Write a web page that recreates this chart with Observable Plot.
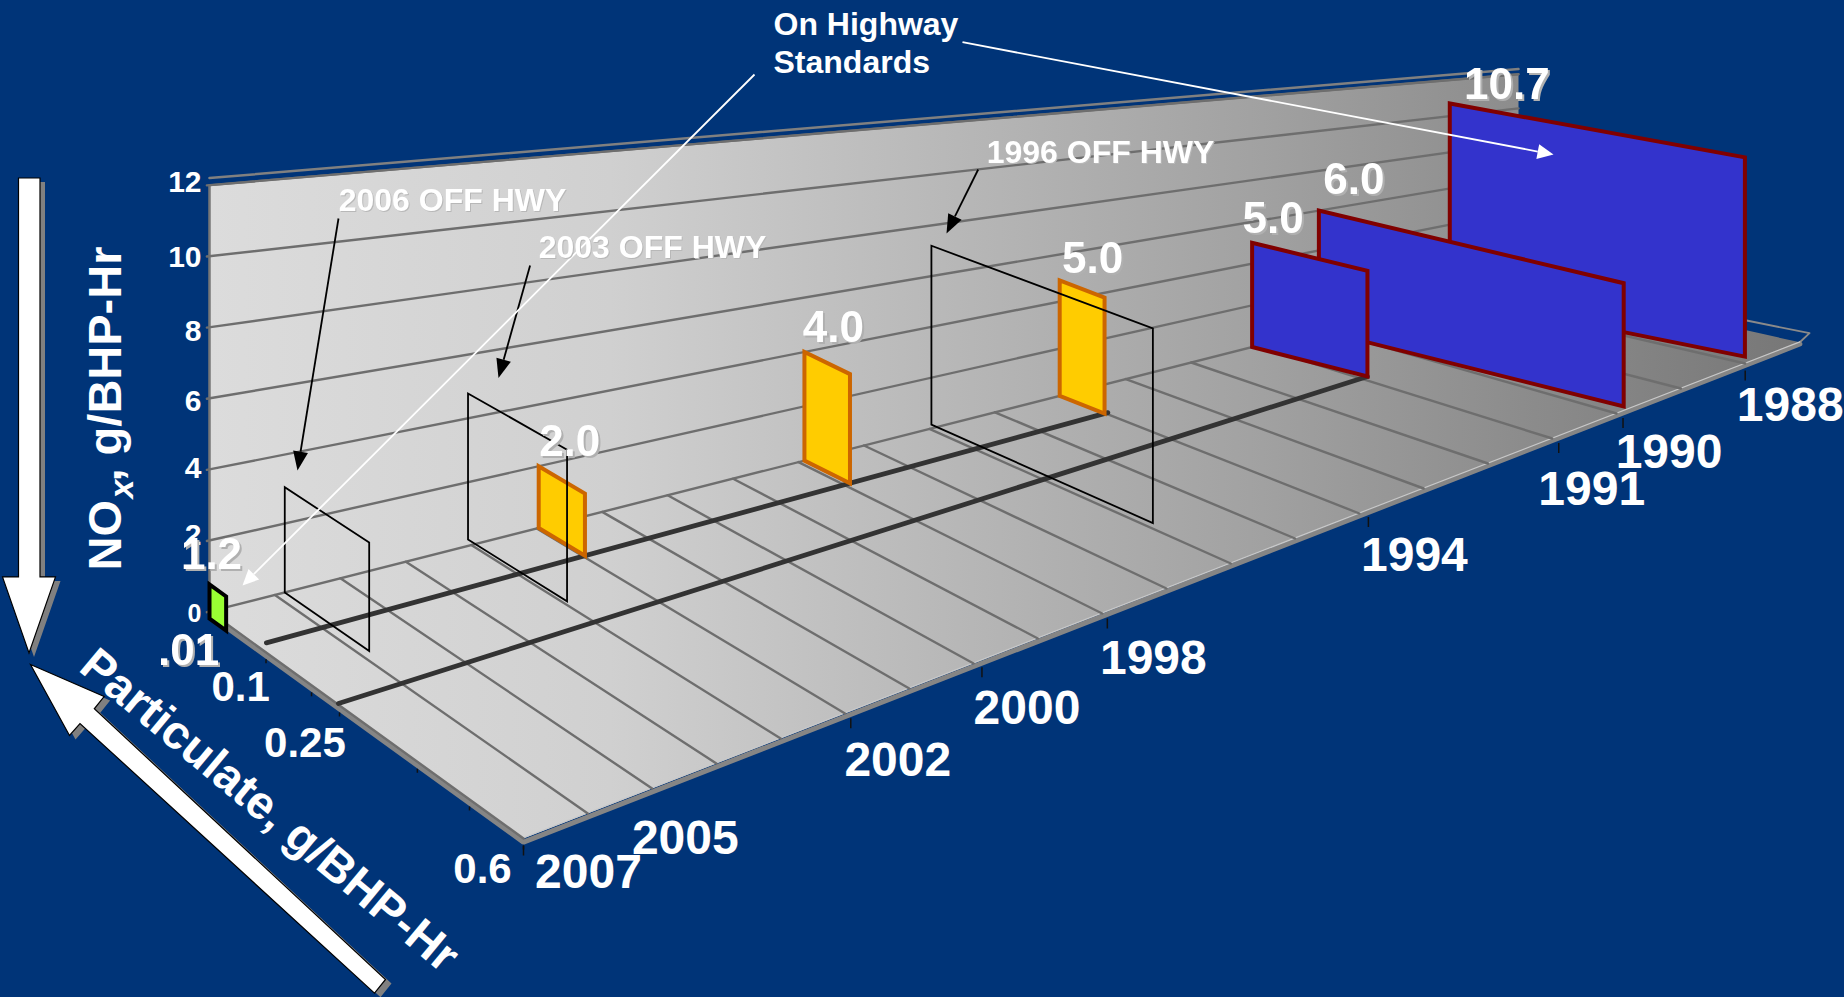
<!DOCTYPE html>
<html>
<head>
<meta charset="utf-8">
<script src="https://cdn.jsdelivr.net/npm/d3@7"></script>
<script src="https://cdn.jsdelivr.net/npm/@observablehq/plot@0.6"></script>
<style>
  html, body { margin: 0; padding: 0; background: #003478; }
  svg { display: block; }
</style>
</head>
<body>
<div id="chart"></div>
<script>
// ---- chart values -------------------------------------------------------
const noxTicks = [0, 2, 4, 6, 8, 10, 12];
const noxTickNudge = [2, -5, -1, 3, 4, 1, -3];
const yearLabels = ["2007", "2005", "2002", "2000", "1998", "1994", "1991", "1990", "1988"];
const yearSlots = [0, 2.05, 5.09, 7.13, 9.08, 13.14, 16.1, 17.1, 19];
const yearsWithoutTick = ["2005"];
const pmLabels = [".01", "0.1", "0.25", "0.6"];
const pmValues = [0.01, 0.1, 0.25, 0.6];
const pmMinorTicks = [0.18, 0.325, 0.414, 0.662, 0.828, 1];

// drawn back to front
const barText = ["10.7", "6.0", "5.0", "5.0", "4.0", "2.0", "1.2"];
const barNox = [10.7, 6, 5, 4.9, 4, 2, 0.96];
const barPm = [0.6, 0.6, 0.25, 0.1, 0.1, 0.1, 0.01];
const barSlot = [18.95, 16.95, 15.93, 12.99, 9.09, 5.03, 0];
const barReach = [1.01, 1.035, 1, 1, 1, 1, 1];
const barFrontLift = [0.47, 0.55, 0.33, 0, 0, 0, -0.2];
const barBackLift = [0, 0, 0, 0, 0, 0, -0.2];
const barFill = ["#3333cc", "#3333cc", "#3333cc", "#ffcc00", "#ffcc00", "#ffcc00", "#99ff33"];
const barEdge = ["#800000", "#800000", "#800000", "#cc6600", "#cc6600", "#cc6600", "#000000"];

const offHwyNames = ["2006 OFF HWY", "2003 OFF HWY", "1996 OFF HWY"];
const offHwySlot = [1.15, 3.95, 11.03];
const offHwyDepth = [0.27, 0.32, 0.735];
const offHwyBase = [0, 0.2, 0.15];
const offHwyNox = [3.05, 4.78, 7.2];

const stepPm = [0.1, 0.25];
const stepFrom = [0.15, 0.1];
const stepTo = [13.04, 15.93];
const stepFromLift = [0, -0.15];
const stepToLift = [0, 0.33];

// ---- perspective of the 3-D box ----------------------------------------
const depth = d3.scaleLinear([0, 0.01, 0.1, 0.25, 0.6], [0, 0.053, 0.15, 0.39, 1]);
function project(u, v, w = 0, gain = 0.03) {
  const bx = 209 + 65.45 * u, by = 611 - 16.6 * u;
  const fx = 523 + 64.3 * u, fy = 838 - 25 * u;
  return {
    x: bx + (fx - bx) * v,
    y: by + (fy - by) * v - w * (35.53 - 0.921 * u) * (1 + gain * v)
  };
}
const poly = pts => pts.map(p => project(...p));
const area = (pts, o) => Plot.line(pts, {x: "x", y: "y", curve: "linear-closed", strokeLinejoin: "miter", strokeMiterlimit: 8, ...o});
const path = (pts, o) => Plot.line(pts, {x: "x", y: "y", ...o});
const LAST = 20, FRONT_LAST = 19.85;

// ---- annotation geometry -----------------------------------------------
const blackArrows = [[338, 218, 297, 470], [529.6, 265, 498, 377.5], [977.7, 169, 946, 233]];
const whiteArrows = [[962, 41.7, 1553, 154], [754, 74, 242, 585]];
function arrow([x1, y1, x2, y2], color, len, half, sw) {
  const a = Math.atan2(y2 - y1, x2 - x1), c = Math.cos(a), s = Math.sin(a);
  const bx = x2 - c * len, by = y2 - s * len;
  return [
    Plot.link([{x1, y1, x2: bx, y2: by}], {x1: "x1", y1: "y1", x2: "x2", y2: "y2", stroke: color, strokeWidth: sw}),
    area([{x: x2, y: y2}, {x: bx - s * half, y: by + c * half}, {x: bx + s * half, y: by - c * half}], {fill: color, stroke: "none"})
  ];
}
const downArrow = [[18, 177.5], [39.5, 177.5], [39.5, 576.4], [55, 576.4], [28.5, 652.5], [2, 576.4], [18, 576.4]];
const slantArrow = [[30, 664], [103.6, 696], [93.8, 708.3], [385, 979], [374, 992.7], [79.5, 723], [69, 735]];
const toXY = (pts, dx = 0, dy = 0) => pts.map(([x, y]) => ({x: x + dx, y: y + dy}));

// ---- label placement ----------------------------------------------------
const yearNudge = [[65, 34], [30, 51], [47, 49], [45, 48], [46, 47], [46, 46], [33, 54], [46, 42], [45, 42]];
const pmNudge = [[-37.6, 27], [-16, 42], [-27, 43.5], [-41, 31]];
const barNudge = [[57, -19], [35, -31], [21, -24], [33, -21], [29, -24], [31, -24], [2, -22]];
const bold = {fontFamily: "Liberation Sans, Arial, sans-serif", fontWeight: "bold", fill: "white"};

const leftTicks = noxTicks.map((w, i) => {
  const p = project(0, 0, w);
  return {x: p.x - 8, y: p.y + noxTickNudge[i], t: String(w), w};
});
const yearRows = yearLabels.map((t, i) => {
  const p = project(yearSlots[i], 1);
  return {t, x: p.x + yearNudge[i][0], y: p.y + yearNudge[i][1], tx: p.x, ty: p.y};
});
const pmRows = pmLabels.map((t, i) => {
  const p = project(0, depth(pmValues[i]));
  return {t, x: p.x + pmNudge[i][0], y: p.y + pmNudge[i][1]};
});
const barRows = barText.map((t, i) => {
  const p = project(barSlot[i], 0, barNox[i]);
  return {t, x: p.x + barNudge[i][0], y: p.y + barNudge[i][1]};
});

// ---- marks --------------------------------------------------------------
const marks = [];

// rim of the box behind the walls
marks.push(path(poly([[0, 0, 12.2], [LAST, 0, 12.3]]), {stroke: "#808080", strokeWidth: 2.5}));
marks.push(path(poly([[LAST, 0.75, 0.3], [LAST, 1, 0.3], [FRONT_LAST, 1, 0]]), {stroke: "#8a8a8a", strokeWidth: 1.8}));

// wall and floor
marks.push(area(poly([[0, 0, 0], [LAST, 0, 0], [LAST, 0, 12], [0, 0, 12]]), {fill: "url(#shade)", stroke: "none"}));
marks.push(area(poly([[0, 0], [LAST, 0], [FRONT_LAST, 1], [0, 1]]), {fill: "url(#shade)", stroke: "none"}));

// edges of the slab
marks.push(path(poly([[0, 0.05, -0.1], [0, 1, -0.1], [FRONT_LAST, 1, -0.1]]), {stroke: "#858585", strokeWidth: 5, strokeLinejoin: "miter"}));
marks.push(path(poly([[0, 0.05, 0.02], [0, 1, 0.02], [FRONT_LAST, 1, 0.02]]), {stroke: "#c8c8c8", strokeWidth: 1.2}));
marks.push(path(poly([[0, 0, 0], [0, 0, 12]]), {stroke: "#777777", strokeWidth: 2.5}));
marks.push(path(poly([[0, 0, 12], [LAST, 0, 12]]), {stroke: "#6e6e6e", strokeWidth: 2}));

// wall grid lines
noxTicks.forEach(w => marks.push(path(poly([[-0.04, 0, w], [LAST, 0, w]]), {stroke: "#6e6e6e", strokeWidth: 2.4})));
// floor grid lines
d3.range(0, LAST).forEach(u => marks.push(path(poly([[u, 0], [u, 1]]), {stroke: "#6e6e6e", strokeWidth: 2.4})));

// year and particulate ticks
marks.push(Plot.link(yearRows.filter(d => !yearsWithoutTick.includes(d.t)), {x1: "tx", x2: "tx", y1: d => d.ty + 7, y2: d => d.ty + 17, stroke: "#111", strokeWidth: 1.5}));
marks.push(Plot.link(pmMinorTicks.map(v => project(0, v)), {x1: "x", x2: "x", y1: d => d.y + 7, y2: d => d.y + 11, stroke: "#111", strokeWidth: 1.5}));

// stepped standard lines on the floor
stepPm.forEach((pm, i) => marks.push(path(poly([[stepFrom[i], depth(pm), stepFromLift[i]], [stepTo[i], depth(pm), stepToLift[i]]]), {stroke: "#333333", strokeWidth: 4.8})));

// bars
barNox.forEach((w, i) => {
  const u = barSlot[i], v = depth(barPm[i]) * barReach[i];
  const up = barFrontLift[i], back = barBackLift[i];
  marks.push(area(poly([[u, 0, back], [u, v, up], [u, v, up + w], [u, 0, back + w]]), {
    fill: barFill[i], stroke: barEdge[i], strokeWidth: 4
  }));
});

// outlined off-highway boxes
offHwySlot.forEach((u, i) => {
  const v = offHwyDepth[i], b = offHwyBase[i], w = offHwyNox[i], g = 0.12;
  marks.push(area(poly([[u, 0, b, g], [u, v, b, g], [u, v, w, g], [u, 0, w, g]]), {fill: "none", stroke: "black", strokeWidth: 1.8}));
});

// annotation arrows
blackArrows.forEach(a => marks.push(...arrow(a, "black", 19, 7.5, 1.8)));
whiteArrows.forEach(a => marks.push(...arrow(a, "white", 16, 7.5, 1.8)));

// big white axis arrows
marks.push(area(toXY(downArrow, 5, 4), {fill: "#808080", stroke: "none"}));
marks.push(area(toXY(downArrow), {fill: "white", stroke: "black", strokeWidth: 1.2}));
marks.push(area(toXY(slantArrow, 6, 4), {fill: "#808080", stroke: "none"}));
marks.push(area(toXY(slantArrow), {fill: "white", stroke: "black", strokeWidth: 1.2}));

// axis text
marks.push(Plot.text(leftTicks.filter(d => d.w > 0), {x: "x", y: "y", text: "t", textAnchor: "end", fontSize: 30, ...bold}));
marks.push(Plot.text(leftTicks.filter(d => d.w === 0), {x: "x", y: "y", text: "t", textAnchor: "end", fontSize: 25, ...bold}));
marks.push(Plot.text(yearRows, {x: "x", y: "y", text: "t", fontSize: 48, ...bold}));
marks.push(Plot.text(pmRows.slice(1), {x: "x", y: "y", text: "t", fontSize: 42, ...bold}));
marks.push(Plot.text(pmRows.slice(0, 1), {x: "x", y: "y", text: "t", fontSize: 44, ...bold, imageFilter: "drop-shadow(2px 2px 0 #b0b0b0)"}));

// axis titles
marks.push(Plot.text([{x: 105, y: 570, t: "NO"}], {x: "x", y: "y", text: "t", rotate: -90, textAnchor: "start", fontSize: 47, ...bold}));
marks.push(Plot.text([{x: 122, y: 498, t: "x"}], {x: "x", y: "y", text: "t", rotate: -90, textAnchor: "start", fontSize: 34, fontStyle: "italic", ...bold}));
marks.push(Plot.text([{x: 105, y: 481, t: ", g/BHP-Hr"}], {x: "x", y: "y", text: "t", rotate: -90, textAnchor: "start", fontSize: 47, ...bold}));
marks.push(Plot.text([{x: 269, y: 810, t: "Particulate, g/BHP-Hr"}], {x: "x", y: "y", text: "t", rotate: 39.8, fontSize: 47, ...bold}));

// callouts
marks.push(Plot.text([{x: 773, y: 24, t: "On Highway"}, {x: 773, y: 62, t: "Standards"}], {x: "x", y: "y", text: "t", textAnchor: "start", fontSize: 32, ...bold}));
marks.push(Plot.text([{x: 452, y: 200}, {x: 652, y: 247}, {x: 1100, y: 152}].map((d, i) => ({...d, t: offHwyNames[i]})), {x: "x", y: "y", text: "t", fontSize: 32, ...bold, imageFilter: "drop-shadow(1px 1px 0 #b8b8b8)"}));

// data labels
marks.push(Plot.text(barRows, {x: "x", y: "y", text: "t", fontSize: 44, ...bold, imageFilter: "drop-shadow(2px 2px 0 #b0b0b0)"}));

const chart = Plot.plot({
  width: 1844,
  height: 997,
  margin: 0,
  x: {domain: [0, 1844], range: [0, 1844], axis: null},
  y: {domain: [0, 997], range: [0, 997], axis: null},
  style: {background: "#003478"},
  marks
});

const grad = d3.select(chart).insert("defs", ":first-child")
  .append("linearGradient")
  .attr("id", "shade").attr("gradientUnits", "userSpaceOnUse")
  .attr("x1", 209).attr("y1", 0).attr("x2", 1810).attr("y2", 0);
[[0, "#dcdcdc"], [0.25, "#d0d0d0"], [0.65, "#a2a2a2"], [0.82, "#8c8c8c"], [1, "#767676"]]
  .forEach(([o, c]) => grad.append("stop").attr("offset", o).attr("stop-color", c));

document.getElementById("chart").appendChild(chart);
</script>
</body>
</html>
